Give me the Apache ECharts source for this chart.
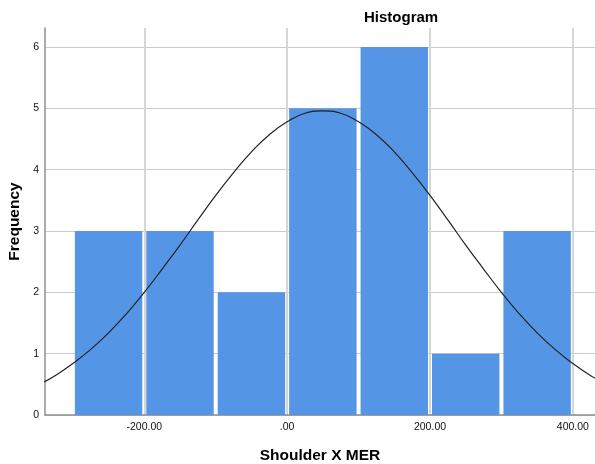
<!DOCTYPE html>
<html>
<head>
<meta charset="utf-8">
<script src="https://cdn.jsdelivr.net/npm/echarts@6/dist/echarts.min.js"></script>
<style>
  html, body { margin: 0; padding: 0; background: #fff; }
  #chart { width: 595px; height: 464px; }
</style>
</head>
<body>
<div id="chart"></div>
<script>
// Histogram bins (lower / upper edge) and their frequencies
const binStarts = [-300, -200, -100, 0, 100, 200, 300];
const binEnds = [-200, -100, 0, 100, 200, 300, 400];
const frequencies = [3, 3, 2, 5, 6, 1, 3];

// Fitted normal curve, sampled along the x axis
const curveX = [-340, -325, -300, -275, -250, -225, -200, -175, -150, -125, -100, -75, -50, -25,
  0, 25, 50, 75, 100, 125, 150, 175, 200, 225, 250, 275, 300, 325, 350, 375, 400, 425, 435];
const curveY = [0.54, 0.64, 0.84, 1.07, 1.34, 1.65, 2.00, 2.38, 2.77, 3.18, 3.58, 3.95, 4.29, 4.57,
  4.78, 4.92, 4.96, 4.92, 4.78, 4.57, 4.29, 3.95, 3.58, 3.18, 2.77, 2.38, 2.00, 1.65, 1.34, 1.07, 0.84, 0.64, 0.58];

// Axis tick positions
const xTickValues = [-200, 0, 200, 400];
const yTickValues = [0, 1, 2, 3, 4, 5, 6];

const barColor = '#5595e5';
const fontFamily = '"Liberation Sans", Arial, sans-serif';

const binData = binStarts.map((s, i) => [s, binEnds[i], frequencies[i]]);
const curveData = curveX.map((x, i) => [x, curveY[i]]);

const chart = echarts.init(document.getElementById('chart'), null, { renderer: 'canvas' });

chart.setOption({
  animation: false,
  backgroundColor: '#ffffff',
  title: {
    text: 'Histogram',
    left: 359,
    top: 5,
    textStyle: { fontFamily, fontSize: 15, fontWeight: 'bold', color: '#000' }
  },
  grid: { left: 45, right: 0, top: 28, bottom: 49, containLabel: false, outerBoundsMode: 'none' },
  xAxis: {
    type: 'value',
    min: -339,
    max: 431,
    name: 'Shoulder X MER',
    nameLocation: 'middle',
    nameGap: 33,
    nameTextStyle: { fontFamily, fontSize: 15.5, fontWeight: 'bold', color: '#000' },
    axisLine: { show: true, onZero: false, lineStyle: { color: '#8f8f8f', width: 1.5 } },
    axisTick: { show: false, customValues: xTickValues },
    axisLabel: {
      customValues: xTickValues,
      margin: 7,
      fontFamily, fontSize: 10.5, color: '#111',
      formatter: v => (v === 0 ? '.00' : v.toFixed(2))
    },
    splitLine: { show: true, lineStyle: { color: '#d6d6d6', width: 2 } }
  },
  yAxis: {
    type: 'value',
    min: 0,
    max: 6.31,
    name: 'Frequency',
    nameLocation: 'middle',
    nameGap: 21,
    nameTextStyle: { fontFamily, fontSize: 15.5, fontWeight: 'bold', color: '#000' },
    axisLine: { show: true, onZero: false, lineStyle: { color: '#8f8f8f', width: 1.5 } },
    axisTick: { show: false, customValues: yTickValues },
    axisLabel: { customValues: yTickValues, margin: 6, fontFamily, fontSize: 10.5, color: '#111' },
    splitLine: { show: true, lineStyle: { color: '#cbcbcb', width: 1 } }
  },
  series: [
    {
      type: 'custom',
      z: 2,
      data: binData,
      encode: { x: [0, 1], y: 2 },
      renderItem: (params, api) => {
        const topLeft = api.coord([api.value(0), api.value(2)]);
        const bottomRight = api.coord([api.value(1), 0]);
        return {
          type: 'rect',
          shape: {
            x: topLeft[0] + 2,
            y: topLeft[1],
            width: bottomRight[0] - topLeft[0] - 4,
            height: bottomRight[1] - topLeft[1]
          },
          style: { fill: barColor }
        };
      }
    },
    {
      type: 'line',
      z: 3,
      data: curveData,
      smooth: true,
      symbol: 'none',
      clip: true,
      lineStyle: { color: '#222222', width: 1.2 }
    }
  ]
});
</script>
</body>
</html>
